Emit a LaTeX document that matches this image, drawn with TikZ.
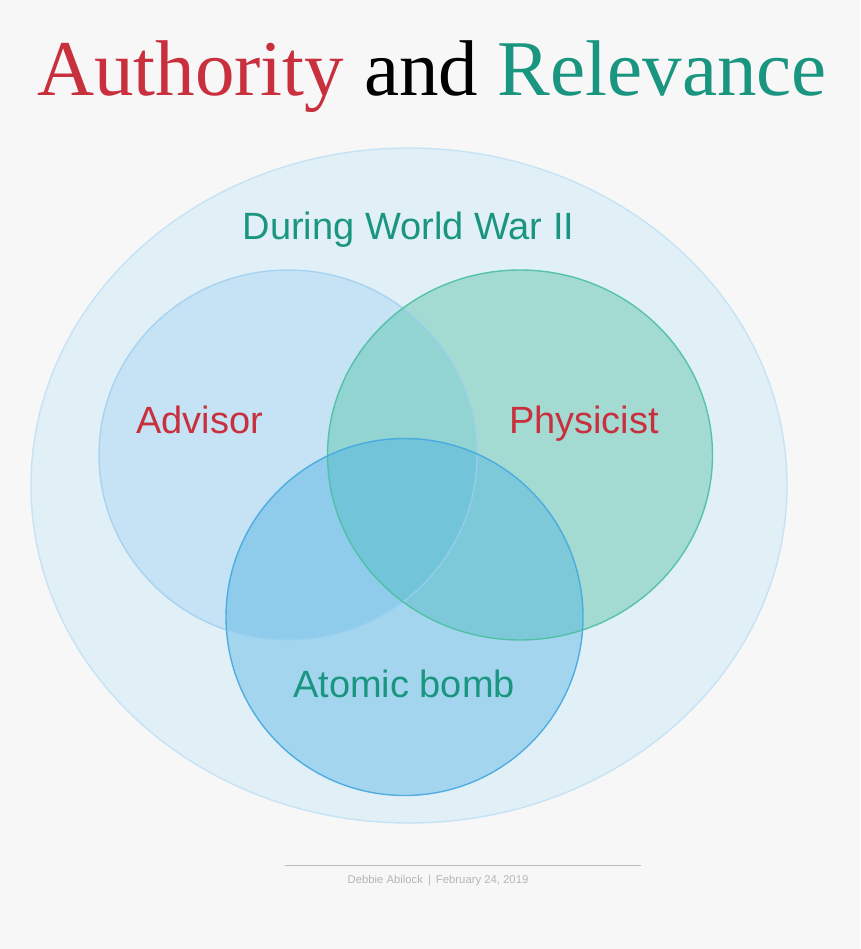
\documentclass[tikz,border=0pt]{standalone}
\usepackage{fontspec}
\setmainfont{Liberation Serif}
\newfontfamily\sansf{Liberation Sans}
\definecolor{bgc}{HTML}{F7F7F7}
\definecolor{authred}{HTML}{C9303E}
\definecolor{tealtxt}{HTML}{1A9680}
\definecolor{outerfill}{HTML}{E1EFF7}
\definecolor{outerline}{HTML}{C6E3F5}
\definecolor{afill}{HTML}{C5E3F4}
\definecolor{aline}{HTML}{9CCFF0}
\definecolor{pfill}{HTML}{A3DBD2}
\definecolor{pline}{HTML}{4CC0A2}
\definecolor{bfill}{HTML}{A3D6EE}
\definecolor{bline}{HTML}{45A8E0}
\definecolor{apfill}{HTML}{91D4D2}
\definecolor{abfill}{HTML}{8FCCEC}
\definecolor{pbfill}{HTML}{7EC9D9}
\definecolor{apbfill}{HTML}{72C4D8}
\definecolor{footgray}{HTML}{B5B5B5}
\definecolor{footline}{HTML}{BDBDBD}
\begin{document}
\begin{tikzpicture}[x=1pt,y=-1pt,
  lbl/.style={inner sep=0pt,anchor=base,font=\sansf\fontsize{38}{40}\selectfont},
  circline/.style={line width=1.4pt}]
\useasboundingbox (0,0) rectangle (860,949);
\fill[bgc] (0,0) rectangle (860,949);
% outer ellipse
\fill[outerfill] (409,485.5) ellipse [x radius=378, y radius=337.5];
% single regions
\fill[afill] (288,455) ellipse [x radius=189, y radius=185];
\fill[pfill] (520,455) ellipse [x radius=192.5, y radius=185];
\fill[bfill] (404.5,617) ellipse [x radius=178.5, y radius=178.5];
% pairwise overlaps
\begin{scope}
  \clip (288,455) ellipse [x radius=189, y radius=185];
  \fill[apfill] (520,455) ellipse [x radius=192.5, y radius=185];
  \fill[abfill] (404.5,617) ellipse [x radius=178.5, y radius=178.5];
\end{scope}
\begin{scope}
  \clip (520,455) ellipse [x radius=192.5, y radius=185];
  \fill[pbfill] (404.5,617) ellipse [x radius=178.5, y radius=178.5];
\end{scope}
\begin{scope}
  \clip (288,455) ellipse [x radius=189, y radius=185];
  \clip (520,455) ellipse [x radius=192.5, y radius=185];
  \fill[apbfill] (404.5,617) ellipse [x radius=178.5, y radius=178.5];
\end{scope}
% outlines
\draw[outerline,circline] (409,485.5) ellipse [x radius=378, y radius=337.5];
\draw[aline,circline,draw opacity=0.8] (288,455) ellipse [x radius=189, y radius=185];
\draw[pline,circline,draw opacity=0.9] (520,455) ellipse [x radius=192.5, y radius=185];
\draw[bline,circline,draw opacity=0.9] (404.5,617) ellipse [x radius=178.5, y radius=178.5];
% title
\node[inner sep=0pt,anchor=base,font=\fontsize{79}{82}\selectfont] (title) at (432,96)
  {\textcolor{authred}{Authority} \textcolor{black}{and} \textcolor{tealtxt}{Relevance}};
% labels
\node[lbl,text=tealtxt] (ww2) at (408.5,240) {During World War II};
\node[lbl,text=authred] (advisor) at (199.5,433) {Advisor};
\node[lbl,text=authred] (physicist) at (584,433) {Physicist};
\node[lbl,text=tealtxt] (bomb) at (404,697) {Atomic bomb};
% footer
\coordinate (fl) at (285,865.5);
\coordinate (fr) at (641,865.5);
\draw[footline,line width=1.9pt] (fl) -- (fr);
\node[inner sep=0pt,anchor=base,text=footgray,font=\sansf\fontsize{11.3}{13}\selectfont] (credit) at (438,883)
  {Debbie Abilock \,|\, February 24, 2019};
\end{tikzpicture}
\end{document}
